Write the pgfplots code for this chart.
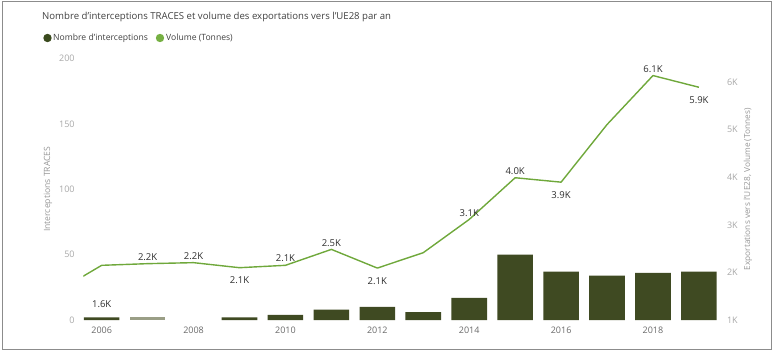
\documentclass[border=0pt]{standalone}
\usepackage{fontspec}
\setmainfont{Open Sans}
\usepackage{pgfplots}
\pgfplotsset{compat=1.18}
\definecolor{bardark}{HTML}{3F4A22}
\definecolor{barfade}{HTML}{9A9E86}
\definecolor{linegreen}{HTML}{6FA83B}
\definecolor{legdark}{HTML}{3A4A1E}
\definecolor{leglight}{HTML}{76B043}
\definecolor{ticktxt}{HTML}{A8A8A8}
\definecolor{xticktxt}{HTML}{6A6A6A}
\definecolor{labtxt}{HTML}{2E2E2E}
\definecolor{titletxt}{HTML}{404040}
\definecolor{frame}{HTML}{8C8C8C}
\begin{document}
\begin{tikzpicture}[x=1pt,y=1pt]
\path[use as bounding box] (0,0) rectangle (774,351);
\draw[frame, line width=1pt] (2.5,1.5) rectangle (771.5,349.5);
\node[anchor=west, text=titletxt, font=\fontsize{9.6}{11}\selectfont, inner sep=0pt] at (42,334) {Nombre d'interceptions TRACES et volume des exportations vers l'UE28 par an};
\fill[legdark] (47.5,313) circle (4.2pt);
\node[anchor=west, text=titletxt, font=\fontsize{8.6}{9}\selectfont, inner sep=0pt] at (53,313) {Nombre d'interceptions};
\fill[leglight] (160,313) circle (4.2pt);
\node[anchor=west, text=titletxt, font=\fontsize{8.6}{9}\selectfont, inner sep=0pt] at (166,313) {Volume (Tonnes)};

\begin{axis}[
  at={(83.3pt,31pt)}, anchor=south west, scale only axis,
  width=634pt, height=261.5pt,
  xmin=2005.6, xmax=2019.4, ymin=0, ymax=200,
  axis line style={draw=none}, major tick length=0pt,
  xtick={2006,2008,2010,2012,2014,2016,2018},
  xticklabels={2006,2008,2010,2012,2014,2016,2018},
  ytick={0,50,100,150,200},
  yticklabels={0,50,100,150,200},
  xticklabel style={font=\fontsize{9}{10}\selectfont, text=xticktxt, inner sep=0pt, anchor=north, yshift=-7pt},
  yticklabel style={font=\fontsize{9}{10}\selectfont, text=ticktxt, inner sep=0pt, anchor=east, xshift=-8.5pt},
  ylabel={Interceptions TRACES},
  ylabel style={at={(axis description cs:-0.0557,0.5)}, anchor=center, font=\fontsize{8.6}{10}\selectfont, text=ticktxt!90!black},
]
\addplot[ybar, bar width=35.6pt, bar shift=0pt, fill=bardark, draw=none]
  coordinates {(2006,2) (2009,2) (2010,4) (2011,8) (2012,10) (2013,6) (2014,17) (2015,50) (2016,37) (2017,34) (2018,36) (2019,37)};
\addplot[ybar, bar width=35.6pt, bar shift=0pt, fill=barfade, draw=none]
  coordinates {(2007,2)};
\end{axis}

\begin{axis}[
  at={(83.3pt,31pt)}, anchor=south west, scale only axis,
  width=634pt, height=261.5pt,
  xmin=2005.6, xmax=2019.4, ymin=1000, ymax=6500,
  axis y line*=right, axis x line=none,
  axis line style={draw=none}, major tick length=0pt,
  ytick={1000,2000,3000,4000,5000,6000},
  yticklabels={1K,2K,3K,4K,5K,6K},
  yticklabel style={font=\fontsize{9}{10}\selectfont, text=ticktxt, inner sep=0pt, anchor=west, xshift=9.5pt},
  ylabel={Exportations vers l'UE28, Volume (Tonnes)},
  ylabel style={at={(axis description cs:1.0484,0.5)}, anchor=center, font=\fontsize{8.3}{10}\selectfont, text=ticktxt!90!black},
  nodes near coords style={font=\fontsize{9.5}{10}\selectfont, text=labtxt},
]
\addplot[linegreen, line width=1.4pt, line join=round]
  coordinates {(2005,1580) (2006,2150) (2007,2185) (2008,2206) (2009,2100) (2010,2150) (2011,2485) (2012,2092) (2013,2416) (2014,3115) (2015,3992) (2016,3899) (2017,5111) (2018,6141) (2019,5895)};
\addplot[draw=none, nodes near coords, point meta=explicit symbolic,
  every node near coord/.append style={anchor=south, yshift=3pt, inner sep=0pt}]
  table[meta=lab] {
x y lab
2007 2185 2.2K
2008 2206 2.2K
2010 2150 2.1K
2011 2485 2.5K
2014 3115 3.1K
2015 3992 4.0K
2018 6141 6.1K
};
\addplot[draw=none, nodes near coords, point meta=explicit symbolic,
  every node near coord/.append style={anchor=north, yshift=-9pt, inner sep=0pt}]
  table[meta=lab] {
x y lab
2009 2100 2.1K
2012 2092 2.1K
2016 3899 3.9K
2019 5895 5.9K
};
\node[font=\fontsize{9.5}{10}\selectfont, text=labtxt] at (axis cs:2006,1330) {1.6K};
\end{axis}
\end{tikzpicture}
\end{document}
